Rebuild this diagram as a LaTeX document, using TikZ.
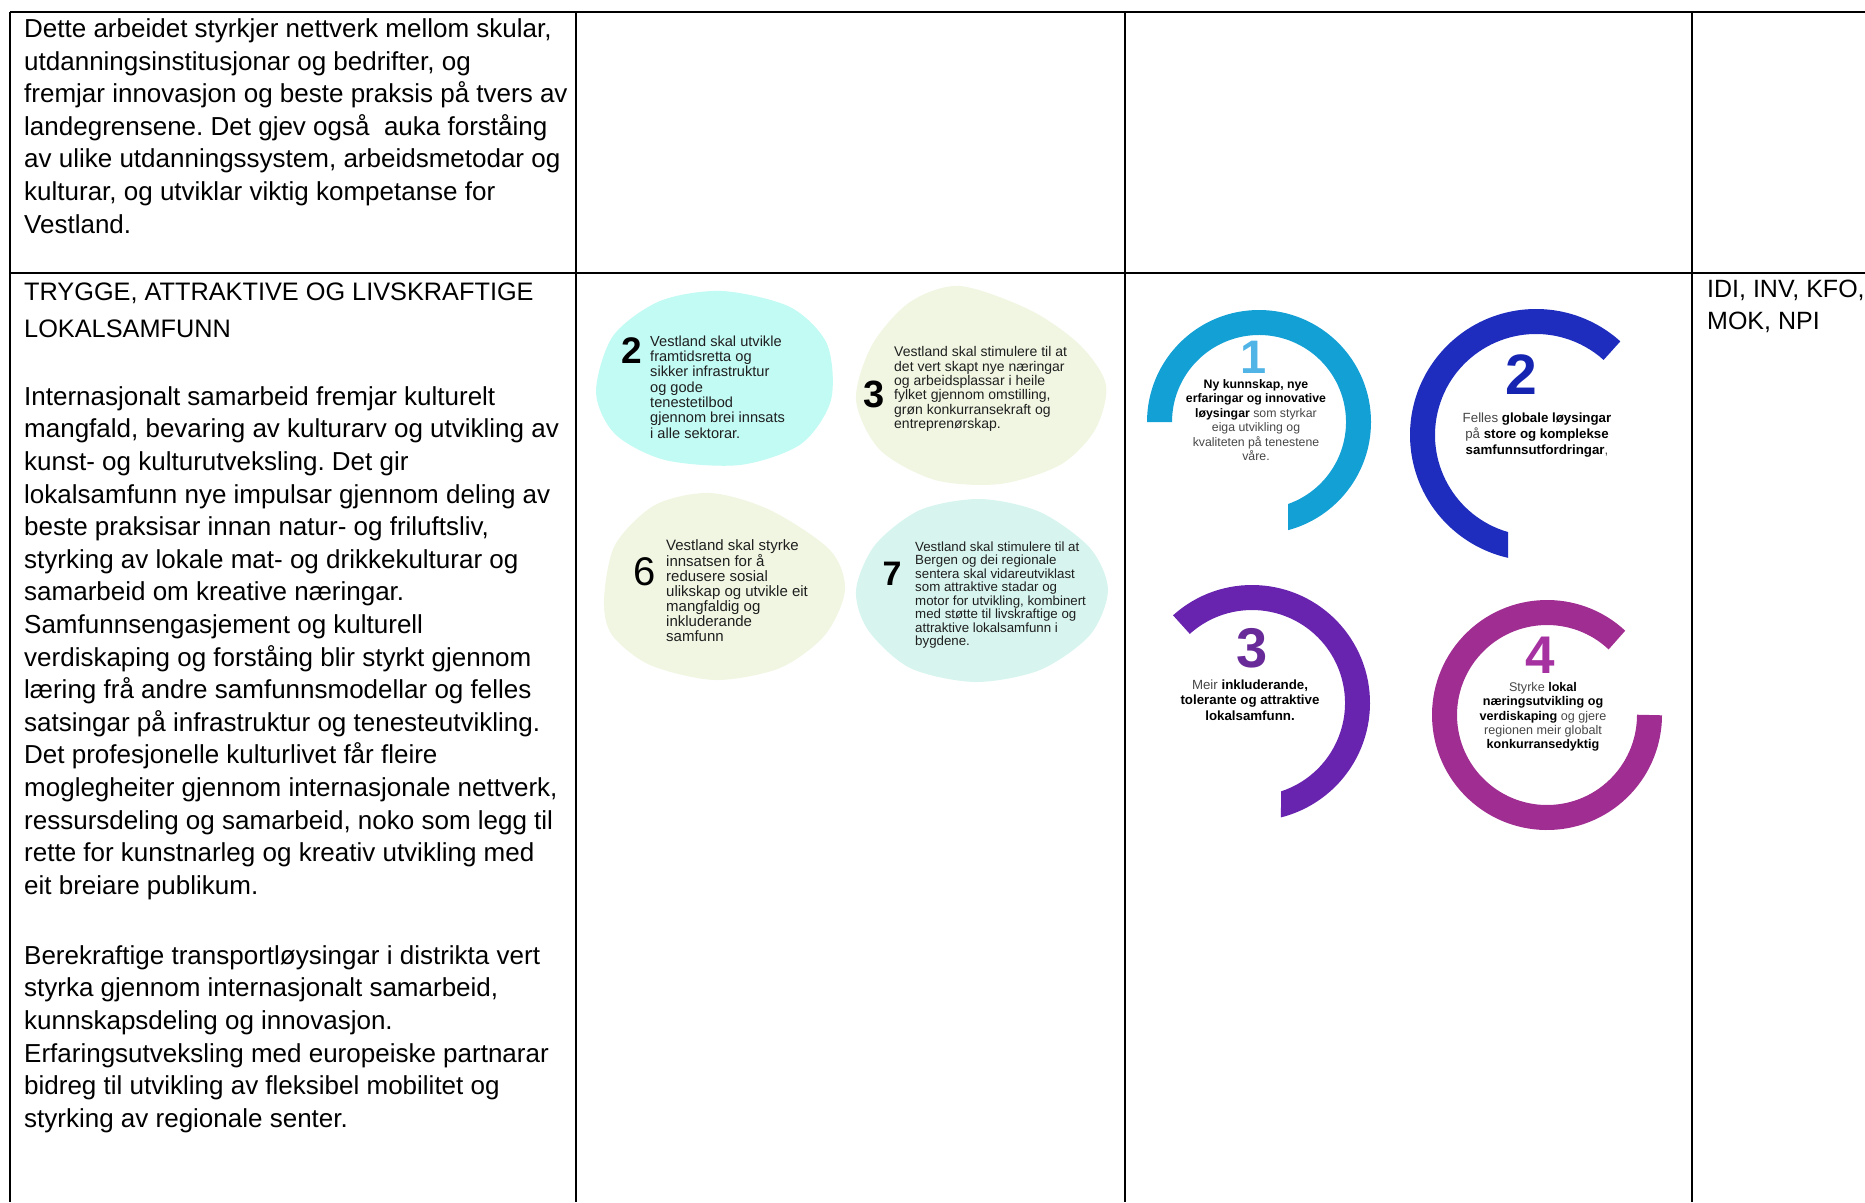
\documentclass[tikz,border=0pt]{standalone}
\usepackage{fontspec}
\setmainfont{Liberation Sans}
\frenchspacing
\definecolor{blobcyan}{RGB}{194,250,244}
\definecolor{blobgreen}{RGB}{240,246,226}
\definecolor{blobmint}{RGB}{215,245,238}
\definecolor{ringone}{RGB}{18,160,213}
\definecolor{ringtwo}{RGB}{30,45,190}
\definecolor{ringthree}{RGB}{104,35,175}
\definecolor{ringfour}{RGB}{160,45,145}
\definecolor{numone}{RGB}{80,180,230}
\definecolor{numtwo}{RGB}{22,36,178}
\definecolor{numthree}{RGB}{104,42,152}
\definecolor{numfour}{RGB}{165,50,160}
\definecolor{greytext}{RGB}{70,70,70}
\newcommand{\ringbold}[1]{\textcolor{black}{\textbf{#1}}}

\begin{document}
\begin{tikzpicture}[x=1pt,y=1pt,
  rule/.style={line width=2.4pt},
  body/.style={anchor=west,inner sep=0pt,align=left,font=\fontsize{26}{32.6}\selectfont},
  blobtext/.style={anchor=west,inner sep=0pt,align=left,text=black!88},
  blobnum/.style={inner sep=0pt,text=black},
  ring/.style={line width=25pt},
  ringtext/.style={inner sep=0pt,align=center,text=greytext},
  ringnum/.style={inner sep=0pt}]

\useasboundingbox (0,0) rectangle (1865,-1202);

% table
\draw[rule] (10,-12) -- (1865,-12);
\draw[rule] (10,-273) -- (1865,-273);
\draw[rule] (10,-12) -- (10,-1202);
\draw[rule] (576,-12) -- (576,-1202);
\draw[rule] (1125,-12) -- (1125,-1202);
\draw[rule] (1692,-12) -- (1692,-1202);

% first column
\node[body] (intro) at (24,-126) {Dette arbeidet styrkjer nettverk mellom skular,\\
utdanningsinstitusjonar og bedrifter, og\\
fremjar innovasjon og beste praksis på tvers av\\
landegrensene. Det gjev også\ \ auka forståing\\
av ulike utdanningssystem, arbeidsmetodar og\\
kulturar, og utviklar viktig kompetanse for\\
Vestland.};

\node[body,font=\fontsize{25.3}{37}\selectfont] (heading) at (24,-310) {TRYGGE, ATTRAKTIVE OG LIVSKRAFTIGE\\
LOKALSAMFUNN};

\node[body] (culture) at (24,-643) {Internasjonalt samarbeid fremjar kulturelt\\
mangfald, bevaring av kulturarv og utvikling av\\
kunst- og kulturutveksling. Det gir\\
lokalsamfunn nye impulsar gjennom deling av\\
beste praksisar innan natur- og friluftsliv,\\
styrking av lokale mat- og drikkekulturar og\\
samarbeid om kreative næringar.\\
Samfunnsengasjement og kulturell\\
verdiskaping og forståing blir styrkt gjennom\\
læring frå andre samfunnsmodellar og felles\\
satsingar på infrastruktur og tenesteutvikling.\\
Det profesjonelle kulturlivet får fleire\\
moglegheiter gjennom internasjonale nettverk,\\
ressursdeling og samarbeid, noko som legg til\\
rette for kunstnarleg og kreativ utvikling med\\
eit breiare publikum.};

\node[body] (transport) at (24,-1039) {Berekraftige transportløysingar i distrikta vert\\
styrka gjennom internasjonalt samarbeid,\\
kunnskapsdeling og innovasjon.\\
Erfaringsutveksling med europeiske partnarar\\
bidreg til utvikling av fleksibel mobilitet og\\
styrking av regionale senter.};

\node[body,font=\fontsize{25}{32}\selectfont] (codes) at (1707,-306) {IDI, INV, KFO,\\
MOK, NPI};

% blobs
\fill[blobcyan] plot[smooth cycle] coordinates {(596,-392) (613,-336) (660,-301) (722,-291) (790,-307) (827,-344) (831,-400) (801,-444) (740,-465) (665,-460) (615,-434)};
\fill[blobgreen] plot[smooth cycle] coordinates {(856,-400) (872,-345) (910,-302) (960,-286) (1030,-310) (1080,-345) (1106,-385) (1095,-430) (1060,-465) (1000,-484) (935,-480) (880,-450)};
\fill[blobgreen] plot[smooth cycle] coordinates {(604,-600) (615,-545) (655,-505) (710,-493) (770,-510) (830,-550) (845,-590) (825,-635) (780,-668) (715,-680) (650,-665) (612,-635)};
\fill[blobmint] plot[smooth cycle] coordinates {(856,-590) (875,-545) (920,-510) (980,-499) (1040,-512) (1090,-548) (1108,-590) (1090,-635) (1040,-670) (975,-682) (910,-668) (868,-630)};

\node[blobnum,font=\fontsize{37}{37}\selectfont\bfseries] (blobtwo) at (632,-351) {2};
\node[blobtext,font=\fontsize{14.6}{15.3}\selectfont] (infra) at (650,-387) {Vestland skal utvikle\\
framtidsretta og\\
sikker infrastruktur\\
og gode\\
tenestetilbod\\
gjennom brei innsats\\
i alle sektorar.};

\node[blobnum,font=\fontsize{38}{38}\selectfont\bfseries] (blobthree) at (874,-394) {3};
\node[blobtext,font=\fontsize{14}{14.3}\selectfont] (jobs) at (894,-389) {Vestland skal stimulere til at\\
det vert skapt nye næringar\\
og arbeidsplassar i heile\\
fylket gjennom omstilling,\\
grøn konkurransekraft og\\
entreprenørskap.};

\node[blobnum,font=\fontsize{40}{40}\selectfont] (blobsix) at (645,-572) {6};
\node[blobtext,font=\fontsize{15}{15}\selectfont] (equality) at (666,-591) {Vestland skal styrke\\
innsatsen for å\\
redusere sosial\\
ulikskap og utvikle eit\\
mangfaldig og\\
inkluderande\\
samfunn};

\node[blobnum,font=\fontsize{34}{34}\selectfont\bfseries] (blobseven) at (892,-574) {7};
\node[blobtext,font=\fontsize{13.3}{13.5}\selectfont] (towns) at (915,-595) {Vestland skal stimulere til at\\
Bergen og dei regionale\\
sentera skal vidareutviklast\\
som attraktive stadar og\\
motor for utvikling, kombinert\\
med støtte til livskraftige og\\
attraktive lokalsamfunn i\\
bygdene.};

% rings
\coordinate (cone) at (1259,-422);
\coordinate (ctwo) at (1536,-435);
\coordinate (cthree) at (1252,-703);
\coordinate (cfour) at (1547,-715);

\fill[ringone] ([shift={(180:112)}]cone) arc[start angle=180,end angle=-75,radius=112]
  -- ([shift={(-70.5:87)}]cone) arc[start angle=-70.5,end angle=180,radius=87] -- cycle;
\fill[ringtwo] ([shift={(48:126)}]ctwo) arc[start angle=48,end angle=257.2,radius=126]
  -- ([shift={(253.9:101)}]ctwo) arc[start angle=253.9,end angle=48,radius=101] -- cycle;
\fill[ringthree] ([shift={(132:118)}]cthree) arc[start angle=132,end angle=-75.8,radius=118]
  -- ([shift={(-71.8:93)}]cthree) arc[start angle=-71.8,end angle=132,radius=93] -- cycle;
\draw[ring,ringfour] (cfour) ++(47:102.5) arc[start angle=47,end angle=360,radius=102.5];

\node[ringnum,text=numone,font=\fontsize{47}{47}\selectfont\bfseries] (numberone) at (1254,-357) {1};
\node[ringtext,font=\fontsize{12.3}{14.4}\selectfont] (goalone) at (1256,-420) {\ringbold{Ny kunnskap, nye}\\
\ringbold{erfaringar og innovative}\\
\ringbold{løysingar} som styrkar\\
eiga utvikling og\\
kvaliteten på tenestene\\
våre.};

\node[ringnum,text=numtwo,font=\fontsize{57}{57}\selectfont\bfseries] (numbertwo) at (1521,-375) {2};
\node[ringtext,font=\fontsize{13.3}{15.8}\selectfont] (goaltwo) at (1537,-435) {Felles \ringbold{globale løysingar}\\
på \ringbold{store og komplekse}\\
\ringbold{samfunnsutfordringar},};

\node[ringnum,text=numthree,font=\fontsize{56}{56}\selectfont\bfseries] (numberthree) at (1252,-648) {3};
\node[ringtext,font=\fontsize{13.3}{15.5}\selectfont] (goalthree) at (1250,-700) {Meir \ringbold{inkluderande,}\\
\ringbold{tolerante og attraktive}\\
\ringbold{lokalsamfunn.}};

\node[ringnum,text=numfour,font=\fontsize{53}{53}\selectfont\bfseries] (numberfour) at (1540,-655) {4};
\node[ringtext,font=\fontsize{12.6}{14.3}\selectfont] (goalfour) at (1543,-717) {Styrke \ringbold{lokal}\\
\ringbold{næringsutvikling og}\\
\ringbold{verdiskaping} og gjere\\
regionen meir globalt\\
\ringbold{konkurransedyktig}};
\end{tikzpicture}
\end{document}
